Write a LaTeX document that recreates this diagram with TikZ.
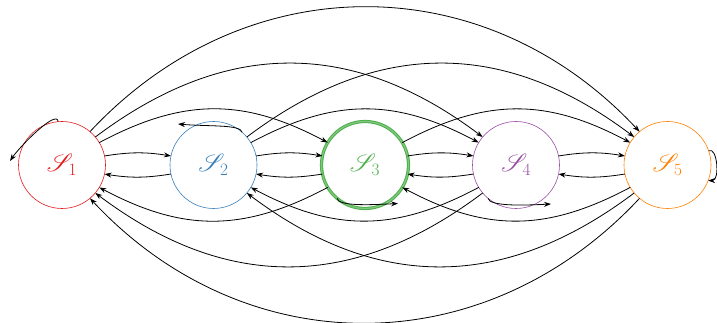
\documentclass[tikz,border=0pt]{standalone}
\usepackage{mathrsfs}
\usetikzlibrary{arrows.meta,calc}

\definecolor{sred}{RGB}{228,26,28}
\definecolor{sblue}{RGB}{55,126,184}
\definecolor{sgreen}{RGB}{77,175,74}
\definecolor{spurple}{RGB}{152,78,163}
\definecolor{sorange}{RGB}{255,127,0}

\begin{document}
\begin{tikzpicture}[x=1pt,y=1pt,>={Stealth[length=7pt,width=5pt]},
    sbox/.style={circle,draw,minimum size=87pt,inner sep=0pt,outer sep=0pt,
      line width=0.6pt,font=\fontsize{25}{29}\selectfont},
    link/.style={->,line width=0.8pt}]
    \useasboundingbox (0,0) rectangle (717,323);
    % states
    \node[sbox,draw=sred,text=sred] (s1) at (62,158) {$\mathscr{S}_1$};
    \node[sbox,draw=sblue,text=sblue] (s2) at (213.5,158) {$\mathscr{S}_2$};
    \node[sbox,draw=sgreen,text=sgreen,line width=1pt,double=sgreen!70!white,
      double distance=1.2pt] (s3) at (365,158) {$\mathscr{S}_3$};
    \node[sbox,draw=spurple,text=spurple] (s4) at (516,158) {$\mathscr{S}_4$};
    \node[sbox,draw=sorange,text=sorange] (s5) at (667.5,158) {$\mathscr{S}_5$};
    % forward links above, backward links below
    \foreach \k/\a/\o/\l in {1/12/9/1, 2/31/28/1.07, 3/40/37/1.08, 4/50/47/1.06} {
      \pgfmathtruncatemacro\n{5-\k}
      \pgfmathtruncatemacro\b{180-\a}
      \pgfmathtruncatemacro\p{180-\o}
      \pgfmathtruncatemacro\c{180+\a}
      \pgfmathtruncatemacro\q{180+\o}
      \pgfmathtruncatemacro\d{360-\a}
      \pgfmathtruncatemacro\r{360-\o}
      \foreach \i in {1,...,\n} {
        \pgfmathtruncatemacro\j{\i+\k}
        \draw[link] (s\i.\a) to[out=\o,in=\p,looseness=\l] (s\j.\b);
        \draw[link] (s\j.\c) to[out=\q,in=\r,looseness=\l] (s\i.\d);
      }
    }
    % self loops
    \coordinate (l1) at ($(s1)+(-52,4)$);
    \coordinate (l2) at ($(s2)+(-35.5,41)$);
    \coordinate (l3) at ($(s3)+(33,-38.5)$);
    \coordinate (l4) at ($(s4)+(35,-39)$);
    \draw[link] (s1.95) .. controls +(95:13) and +(56:18) .. (l1);
    \draw[link] (s2.49) .. controls +(100:8) and +(-5:30) .. (l2);
    \draw[link] (s3.230) .. controls +(280:8) and +(183:30) .. (l3);
    \draw[link] (s4.230) .. controls +(280:8) and +(183:30) .. (l4);
    \draw[link] (s5.19) .. controls +(30:10) and +(0:12) .. (s5.-21);
\end{tikzpicture}
\end{document}
